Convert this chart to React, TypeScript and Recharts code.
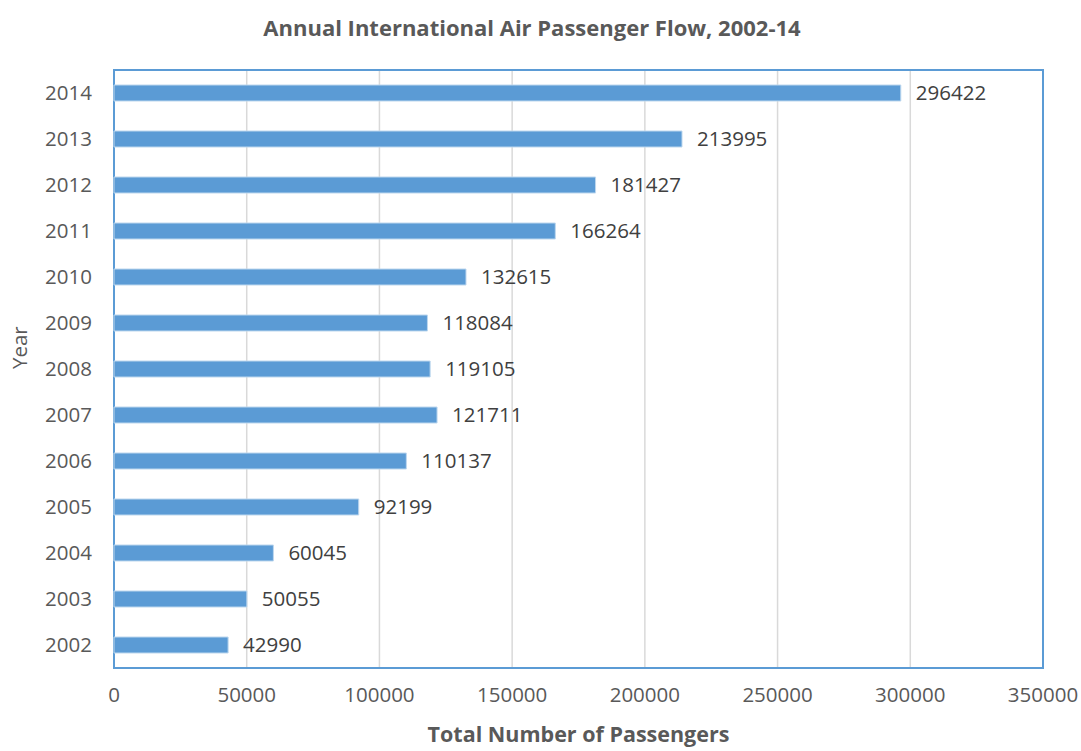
import { BarChart, Bar, XAxis, YAxis, CartesianGrid, LabelList, ReferenceArea } from 'recharts';

const years = ['2002', '2003', '2004', '2005', '2006', '2007', '2008', '2009', '2010', '2011', '2012', '2013', '2014'];
const passengers = [42990, 50055, 60045, 92199, 110137, 121711, 119105, 118084, 132615, 166264, 181427, 213995, 296422];
const xTicks = [0, 50000, 100000, 150000, 200000, 250000, 300000, 350000];

const data = years.map((year, i) => ({ year, passengers: passengers[i] }));

const font = '"Open Sans", sans-serif';
const gray = '#595959';

const App = () => {
  return (
    <div style={{ position: 'absolute', left: 0, top: 0, width: 1081, height: 751, background: '#fff', fontFamily: font }}>
      <div style={{ position: 'absolute', left: 0, width: 1064, top: 12, textAlign: 'center', fontWeight: 700, fontSize: 22, color: gray }}>
        Annual International Air Passenger Flow, 2002-14
      </div>
      <BarChart
        width={1081}
        height={751}
        data={data}
        layout="vertical"
        margin={{ top: 70, right: 38, bottom: 0, left: 0 }}
      >
        <CartesianGrid horizontal={false} stroke="#D9D9D9" strokeWidth={1.5} />
        <XAxis
          type="number"
          domain={[0, 350000]}
          ticks={xTicks}
          interval={0}
          height={83}
          axisLine={false}
          tickLine={false}
          tickSize={0}
          tickMargin={19}
          tick={{ fill: gray, fontSize: 20.5, fontFamily: font }}
          label={{ value: 'Total Number of Passengers', position: 'insideBottom', offset: 9, fill: gray, fontSize: 21.5, fontWeight: 700, fontFamily: font }}
        />
        <YAxis
          type="category"
          dataKey="year"
          reversed
          width={114}
          axisLine={false}
          tickLine={false}
          tickSize={0}
          tickMargin={22}
          tick={{ fill: gray, fontSize: 20.5, fontFamily: font }}
          label={{ value: 'Year', angle: -90, position: 'insideLeft', offset: 20, fill: gray, fontSize: 20.5, fontFamily: font }}
        />
        <ReferenceArea x1={0} x2={350000} fill="none" stroke="#5B9BD5" strokeWidth={2} ifOverflow="visible" />
        <Bar dataKey="passengers" fill="#5B9BD5" stroke="#BDD7EE" strokeWidth={1} barSize={16} isAnimationActive={false}>
          <LabelList dataKey="passengers" position="right" offset={15} fill="#404040" fontSize={20.5} fontFamily={font} />
        </Bar>
      </BarChart>
    </div>
  );
};

export default App;
